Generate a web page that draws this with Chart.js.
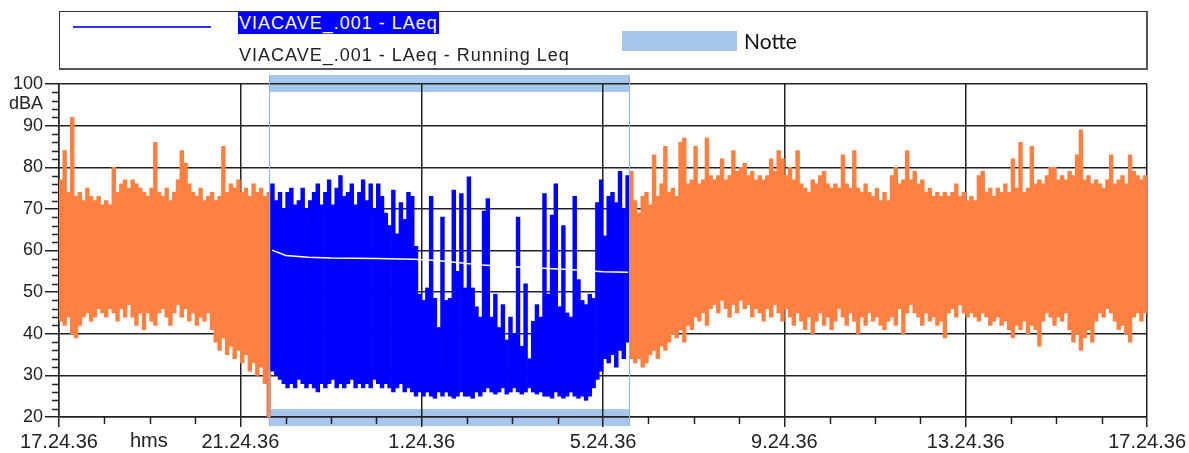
<!DOCTYPE html>
<html>
<head>
<meta charset="utf-8">
<script src="https://cdn.jsdelivr.net/npm/chart.js@4.4.1/dist/chart.umd.min.js"></script>
<style>
  body { margin: 0; background: #fff; }
  #wrap { position: relative; width: 1189px; height: 453px; font-family: "Liberation Sans", Arial, sans-serif; color: #222; }
  #legend { position: absolute; left: 59px; top: 11px; width: 1089px; height: 59px; box-sizing: border-box;
            border: 1px solid #333; border-right: 2px solid #555; border-bottom: 2px solid #555; }
  .abs { position: absolute; white-space: nowrap; }
  .lg { font-size: 18px; letter-spacing: 1px; line-height: 22px; }
</style>
</head>
<body>
<div id="wrap">
  <canvas id="c" width="1189" height="453"></canvas>
  <div id="legend"></div>
  <div class="abs" style="left:73px;top:26px;width:138px;height:2px;background:#3030ff;"></div>
  <div class="abs lg" style="left:238px;top:12px;background:#0000ff;color:#fff;padding:0 1px;">VIACAVE_.001 - LAeq</div>
  <div class="abs lg" style="left:239px;top:44px;">VIACAVE_.001 - LAeq - Running Leq</div>
  <div class="abs" style="left:622px;top:31px;width:115px;height:20px;background:rgb(166,198,236);"></div>
  <div class="abs" style="left:744px;top:29px;font-family:Lato,sans-serif;font-size:21px;line-height:24px;color:#111;">Notte</div>
  <div class="abs" style="right:1146px;top:93px;font-size:18px;line-height:20px;">dBA</div>
  <div class="abs" style="left:130px;top:429px;font-size:20px;line-height:22px;">hms</div>
</div>
<script>
// minutes after 17.24.36, one column every 5 minutes
const binMinutes = 5;
const xTickLabels = ['17.24.36', '21.24.36', '1.24.36', '5.24.36', '9.24.36', '13.24.36', '17.24.36'];
const nightStart = 278;   // ~22.03
const nightEnd = 755;     // ~6.00

// max LAeq in each column (dBA)
const levelMax = [
  // evening
  77,84,74,92,73,74,72,75,73,72, 73,71,72,71,80,74,76,77,75,77,
  76,75,74,73,75,86,74,73,75,72, 74,77,84,81,76,74,73,75,72,73,
  74,72,73,85,74,76,75,77,74,75, 73,76,74,75,73,74,
  // night
  76,72,74,70,74,75,71,72,75,70, 72,74,76,71,74,77,71,75,78,73,
  74,76,71,74,77,72,76,70,76,73, 69,66,74.5,64,71.5,67.5,74,73,61,49.5,
  48,51,73,48.5,41.5,68,48,48.5,74.5,55, 73.7,51,77.7,51,46.5,44,69.5,72.5,44,49.5,
  41.5,47,38.5,44,40,68,37,52,34,43, 47,44,73.7,49.5,68.5,76,46.5,66,45,44,
  73,53,48,47,49.5,48.5,71.5,77,63.5,73, 74,71.5,79,70,78,
  // morning and day
  79,72,69,73,74,71,83,73,76,85, 74,75,73,86,87,76,77,85,76,77,
  87,78,77,78,82,77,78,84,79,80, 81,78,79,77,78,77,78,82,79,84,
  82,78,80,77,84,76,75,74,77,76, 78,79,76,75,76,75,83,76,75,84,
  75,74,76,74,73,75,72,74,72,78, 80,76,77,84,77,79,76,77,74,75,
  73,74,73,74,73,74,76,73,74,72, 73,72,78,79,74,75,73,75,74,76,
  74,82,75,86,74,75,85,76,77,76, 78,80,80,77,78,77,79,78,83,89,
  77,78,76,77,76,75,77,83,76,77, 78,76,83,79,78,77,78
];

// min LAeq in each column (dBA)
const levelMin = [
  // evening
  43,42,44,40,39,42,44,45,43,44, 46,45,44,46,45,43,46,44,47,44,
  42,45,41,45,43,42,45,46,44,42, 45,47,44,46,43,45,42,44,43,45,
  41,38,36,39,35,37,34,36,33,35, 31,33,30,32,28,20,
  // night
  31,30,29,28,27,28,27,29,28,27, 28,27,26,28,27,28,29,27,28,27,
  28,29,27,28,27,28,27,29,28,27, 28,27,26,27,28,26,27,26,25,26,
  25,26,25,24.5,26,25,26,25,24.5,25, 26,25,25,24.5,26,25,26,27,26,25.5,
  26,27,25.5,26,27,26,25.5,26,27,26, 25.5,26,25,25,24.5,26,25,24.5,25,26,
  25,24.5,25,24,25,27,29,31,34,33, 35,32,36,34,38,
  // morning and day
  34,33,34,32,33,35,36,34,37,36, 38,40,39,41,38,42,41,44,43,45,
  42,46,47,45,48,46,44,47,45,48, 46,47,44,46,45,43,46,44,47,45,
  43,46,44,42,45,43,41,44,40,43, 45,42,44,41,43,46,44,42,45,43,
  40,44,42,45,43,44,42,41,43,44, 42,46,40,45,47,45,44,42,45,43,
  44,42,43,39,45,46,44,47,45,44, 45,44,43,45,44,42,43,44,42,43,
  41,39,42,41,43,40,42,41,37,43, 45,44,42,44,43,45,41,38,40,36,
  39,41,38,43,45,44,46,45,43,41, 42,40,38,44,45,43,45
];

// running Leq during the night
const runTimes = [282, 300, 330, 360, 420, 470, 500, 560, 620, 680, 720, 753];
const runLeq = [60.1, 58.8, 58.4, 58.2, 58.1, 57.9, 57.6, 56.5, 55.9, 55.4, 54.9, 54.8];

const inNight = t => t >= nightStart && t <= nightEnd;
const bandColor = 'rgb(166,198,236)';

const nightBand = {
  id: 'nightBand',
  beforeDraw(chart) {
    const { ctx, chartArea: a, scales: { x } } = chart;
    const x0 = x.getPixelForValue(nightStart), x1 = x.getPixelForValue(nightEnd);
    ctx.save();
    ctx.fillStyle = bandColor;
    ctx.fillRect(x0, a.top - 9, x1 - x0, 17);
    ctx.fillRect(x0, a.bottom - 8, x1 - x0, 17);
    ctx.restore();
  },
  afterDatasetsDraw(chart) {
    const { ctx, chartArea: a, scales: { x } } = chart;
    ctx.save();
    ctx.strokeStyle = 'rgb(140,178,228)';
    ctx.lineWidth = 1;
    [nightStart, nightEnd].forEach(t => {
      const px = Math.round(x.getPixelForValue(t)) + 0.5;
      ctx.beginPath();
      ctx.moveTo(px, a.top - 9);
      ctx.lineTo(px, a.bottom + 9);
      ctx.stroke();
    });
    ctx.restore();
  }
};

const minorTicks = {
  id: 'minorTicks',
  afterDraw(chart) {
    const { ctx, chartArea: a, scales: { x, y } } = chart;
    ctx.save();
    ctx.strokeStyle = '#222';
    ctx.lineWidth = 1.5;
    ctx.beginPath();
    for (let v = 22; v < 100; v += 2) {
      if (v % 10 === 0) continue;
      const py = Math.round(y.getPixelForValue(v)) + 0.5;
      ctx.moveTo(a.left - 7, py);
      ctx.lineTo(a.left, py);
    }
    for (let m = 60; m < 1440; m += 60) {
      if (m % 240 === 0) continue;
      const px = Math.round(x.getPixelForValue(m)) + 0.5;
      ctx.moveTo(px, a.bottom);
      ctx.lineTo(px, a.bottom + 7);
    }
    ctx.stroke();
    ctx.restore();
  }
};

const tickFont = { family: '"Liberation Sans", Arial, sans-serif', size: 20 };

new Chart(document.getElementById('c'), {
  type: 'bar',
  data: {
    datasets: [
      {
        type: 'line',
        label: 'VIACAVE_.001 - LAeq - Running Leq',
        data: runTimes.map((t, i) => ({ x: t, y: runLeq[i] })),
        borderColor: '#ffffff',
        borderWidth: 1.5,
        pointRadius: 0,
        tension: 0,
        order: 1
      },
      {
        label: 'VIACAVE_.001 - LAeq',
        data: levelMax.map((hi, k) => ({ x: k * binMinutes + binMinutes / 2, y: [levelMin[k], hi] })),
        backgroundColor: c => (c.raw && inNight(c.raw.x)) ? '#0000ff' : '#ff8040',
        borderWidth: 0,
        barPercentage: 1,
        categoryPercentage: 1,
        order: 2
      }
    ]
  },
  options: {
    responsive: false,
    animation: false,
    events: [],
    layout: { padding: { top: 84, right: 41, left: 0, bottom: 0 } },
    plugins: { legend: { display: false }, tooltip: { enabled: false } },
    scales: {
      x: {
        type: 'linear',
        min: 0,
        max: 1440,
        offset: false,
        afterFit: s => { s.height = 36; },
        ticks: {
          stepSize: 240,
          autoSkip: false,
          maxRotation: 0,
          padding: 3,
          color: '#222',
          font: tickFont,
          callback: v => xTickLabels[Math.round(v / 240)]
        },
        grid: { color: '#222', lineWidth: 1.5, tickLength: 10, offset: false },
        border: { color: '#222', width: 1.5 }
      },
      y: {
        min: 20,
        max: 100,
        afterFit: s => { s.width = 59; },
        ticks: { stepSize: 10, padding: 2, color: '#222', font: { ...tickFont, size: 18 } },
        grid: { color: '#222', lineWidth: 1.5, tickLength: 14 },
        border: { color: '#222', width: 1.5 }
      }
    }
  },
  plugins: [nightBand, minorTicks]
});
</script>
</body>
</html>
